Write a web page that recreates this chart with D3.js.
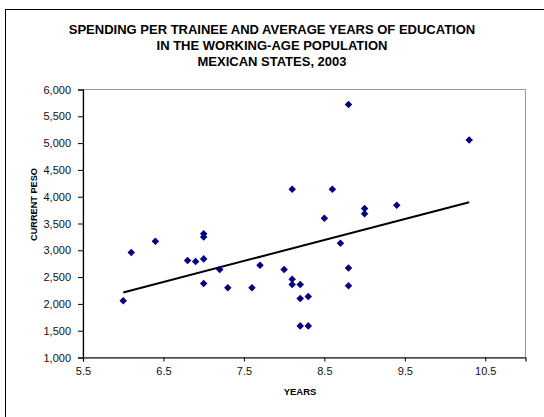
<!DOCTYPE html>
<html>
<head>
<meta charset="utf-8">
<script src="https://cdn.jsdelivr.net/npm/d3@7"></script>
<style>
  html, body { margin: 0; padding: 0; background: #fff; }
  svg { display: block; }
  text { font-family: "Liberation Sans", Arial, sans-serif; }
</style>
</head>
<body>
<svg id="chart" width="544" height="417"></svg>
<script>
// Average years of education (working-age population) per state
const years = [6.0, 6.1, 6.4, 6.8, 6.9, 7.0, 7.0, 7.0, 7.0, 7.2, 7.3, 7.6, 7.7, 8.0,
  8.1, 8.1, 8.1, 8.2, 8.2, 8.2, 8.3, 8.3, 8.5, 8.6, 8.7, 8.8, 8.8, 8.8, 9.0, 9.0, 9.4, 10.3];
// Spending per trainee, current pesos
const spending = [2060, 2960, 3170, 2810, 2790, 2840, 3310, 3250, 2380, 2640, 2300, 2300, 2720, 2640,
  2460, 2360, 4140, 2360, 2100, 1590, 2140, 1590, 3600, 4140, 3130, 5720, 2670, 2340, 3780, 3680, 3840, 5060];

const titleLines = [
  "SPENDING PER TRAINEE AND AVERAGE YEARS OF EDUCATION",
  "IN THE WORKING-AGE POPULATION",
  "MEXICAN STATES, 2003"
];
const xTicks = [5.5, 6.5, 7.5, 8.5, 9.5, 10.5];
const yTicks = [1000, 1500, 2000, 2500, 3000, 3500, 4000, 4500, 5000, 5500, 6000];
const xDomain = [5.5, 11.0];
const yDomain = [1000, 6000];

const svg = d3.select("#chart");
const plot = { left: 83, top: 89.5, right: 525.5, bottom: 357.5 };

const x = d3.scaleLinear().domain(xDomain).range([plot.left, plot.right]);
const y = d3.scaleLinear().domain(yDomain).range([plot.bottom, plot.top]);

// Outer chart frame (runs past the right and bottom edges)
svg.append("rect")
  .attr("x", 5.5).attr("y", 9.5)
  .attr("width", 600).attr("height", 500)
  .attr("fill", "none").attr("stroke", "#000").attr("stroke-width", 1);

// Title
svg.append("g").selectAll("text").data(titleLines).join("text")
  .attr("x", 272)
  .attr("y", (d, i) => 33.5 + i * 16)
  .attr("text-anchor", "middle")
  .attr("font-size", 13)
  .attr("font-weight", "bold")
  .text(d => d);

// Plot area border (grey top/right)
svg.append("rect")
  .attr("x", plot.left).attr("y", plot.top)
  .attr("width", plot.right - plot.left).attr("height", plot.bottom - plot.top)
  .attr("fill", "none").attr("stroke", "#9a9a9a").attr("stroke-width", 1);

// Axes
const yAxis = d3.axisLeft(y).tickValues(yTicks).tickSize(5).tickPadding(7)
  .tickFormat(d3.format(","));
const xAxis = d3.axisBottom(x).tickValues(xTicks).tickSize(4).tickPadding(6)
  .tickFormat(d3.format(".1f"));

const gy = svg.append("g").attr("transform", `translate(${plot.left},0)`).call(yAxis);
const gx = svg.append("g").attr("transform", `translate(0,${plot.bottom})`).call(xAxis);
[gx, gy].forEach(g => {
  g.select(".domain").attr("stroke", "#000").attr("stroke-width", 1.2);
  g.selectAll(".tick line").attr("stroke", "#000");
  g.selectAll(".tick text").attr("font-size", 11).attr("fill", "#111")
    .attr("font-family", "'Liberation Sans', Arial, sans-serif");
});

// Least-squares trend line
const n = years.length;
const mx = d3.mean(years), my = d3.mean(spending);
let sxy = 0, sxx = 0;
for (let i = 0; i < n; i++) {
  sxy += (years[i] - mx) * (spending[i] - my);
  sxx += (years[i] - mx) * (years[i] - mx);
}
const slope = sxy / sxx, intercept = my - slope * mx;
const [x0, x1] = d3.extent(years);
svg.append("line")
  .attr("x1", x(x0)).attr("y1", y(intercept + slope * x0))
  .attr("x2", x(x1)).attr("y2", y(intercept + slope * x1))
  .attr("stroke", "#000").attr("stroke-width", 2);

// State markers
const diamond = d3.symbol().type(d3.symbolDiamond2).size(36);
svg.append("g").selectAll("path").data(years).join("path")
  .attr("transform", (d, i) => `translate(${x(d)},${y(spending[i])})`)
  .attr("d", diamond)
  .attr("fill", "#000080");

// Axis titles
svg.append("text")
  .attr("x", 300).attr("y", 395)
  .attr("text-anchor", "middle")
  .attr("font-size", 9.5).attr("font-weight", "bold")
  .text("YEARS");

// Y title sits in a box that trims its last letter
svg.append("clipPath").attr("id", "ylabel-clip")
  .append("rect").attr("x", 0).attr("y", 168).attr("width", 80).attr("height", 200);
svg.append("g").attr("clip-path", "url(#ylabel-clip)")
  .append("text")
  .attr("transform", "translate(37,241) rotate(-90)")
  .attr("text-anchor", "start")
  .attr("font-size", 9.2).attr("font-weight", "bold")
  .text("CURRENT PESOS");
</script>
</body>
</html>
